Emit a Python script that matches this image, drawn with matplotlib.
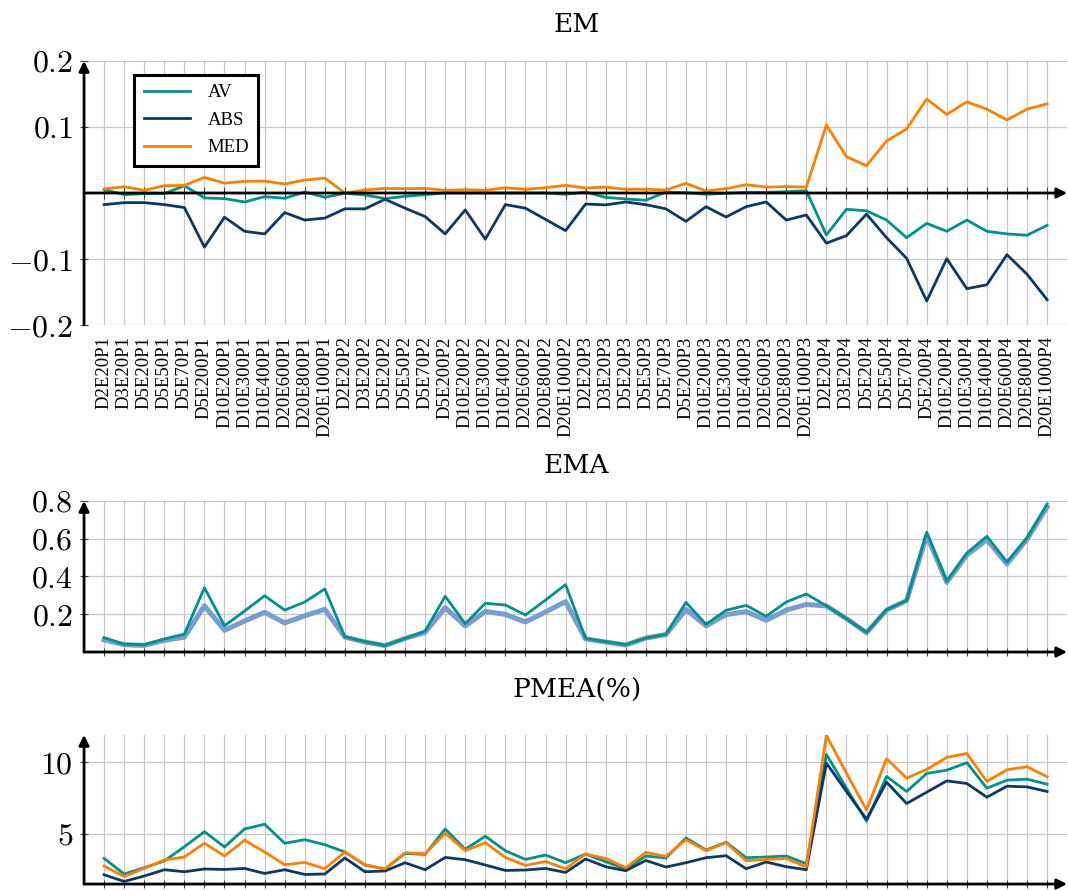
import numpy as np
import matplotlib
matplotlib.use("Agg")
import matplotlib.pyplot as plt
import matplotlib.patheffects as pe

plt.rcParams["mathtext.fontset"] = "cm"
plt.rcParams["font.family"] = ["Liberation Serif", "DejaVu Serif"]

# configurations, 12 per P group
base = ["D2E20", "D3E20", "D5E20", "D5E50", "D5E70", "D5E200",
        "D10E200", "D10E300", "D10E400", "D20E600", "D20E800", "D20E1000"]
labels = [b + p for p in ["P1", "P2", "P3", "P4"] for b in base]

# EM
em_av = [0.005, -0.0025, -0.001, -0.001, 0.011, -0.0075, -0.0085, -0.0136, -0.0055, -0.008, 0.0015, -0.0065,
         -0.0005, -0.003, -0.0085, -0.005, -0.0025, 0.0, 0.0, 0.0, 0.0, 0.0, 0.0, -0.002,
         0.0015, -0.0066, -0.009, -0.011, 0.0015, 0.0005, -0.002, -0.0005, 0.001, 0.001, 0.002, 0.0035,
         -0.0636, -0.0247, -0.027, -0.041, -0.0677, -0.046, -0.058, -0.041, -0.058, -0.062, -0.064, -0.049]
em_abs = [-0.0176, -0.0146, -0.0146, -0.0176, -0.022, -0.082, -0.0367, -0.058, -0.062, -0.0296, -0.041, -0.038,
          -0.024, -0.024, -0.0095, -0.023, -0.0357, -0.062, -0.0256, -0.070, -0.0176, -0.023, -0.040, -0.057,
          -0.0167, -0.018, -0.0136, -0.0177, -0.024, -0.043, -0.0207, -0.0364, -0.0207, -0.0136, -0.041, -0.0333,
          -0.076, -0.0646, -0.032, -0.0677, -0.099, -0.1636, -0.0995, -0.145, -0.139, -0.0934, -0.123, -0.1616]
em_med = [0.006, 0.0095, 0.004, 0.011, 0.0115, 0.0236, 0.015, 0.0176, 0.018, 0.0136, 0.0196, 0.0226,
          0.0, 0.0045, 0.007, 0.0065, 0.007, 0.004, 0.005, 0.004, 0.008, 0.0055, 0.008, 0.0116,
          0.0076, 0.009, 0.0056, 0.0056, 0.0045, 0.0146, 0.003, 0.0066, 0.0126, 0.009, 0.0096, 0.009,
          0.103, 0.055, 0.0414, 0.0788, 0.097, 0.1424, 0.119, 0.138, 0.127, 0.1106, 0.127, 0.135]

# EMA
ema_av = [0.076, 0.041, 0.039, 0.069, 0.095, 0.341, 0.139, 0.217, 0.298, 0.222, 0.265, 0.334,
          0.081, 0.055, 0.034, 0.072, 0.111, 0.295, 0.150, 0.258, 0.249, 0.196, 0.275, 0.357,
          0.072, 0.055, 0.039, 0.074, 0.094, 0.263, 0.147, 0.221, 0.247, 0.189, 0.265, 0.307,
          0.245, 0.177, 0.104, 0.224, 0.274, 0.635, 0.376, 0.524, 0.613, 0.477, 0.605, 0.784]
ema_abs = [0.064, 0.039, 0.035, 0.062, 0.079, 0.245, 0.115, 0.164, 0.210, 0.154, 0.192, 0.226,
           0.079, 0.053, 0.034, 0.072, 0.104, 0.235, 0.138, 0.215, 0.199, 0.159, 0.212, 0.267,
           0.069, 0.053, 0.037, 0.074, 0.092, 0.226, 0.139, 0.198, 0.214, 0.168, 0.222, 0.252,
           0.244, 0.177, 0.102, 0.222, 0.272, 0.618, 0.369, 0.514, 0.595, 0.466, 0.598, 0.768]

# PMEA(%)
pmea_av = [3.29, 2.20, 2.64, 3.11, 4.11, 5.16, 4.09, 5.35, 5.68, 4.35, 4.60, 4.25,
           3.74, 2.83, 2.55, 3.64, 3.57, 5.35, 3.93, 4.84, 3.83, 3.22, 3.53, 2.99,
           3.60, 3.06, 2.55, 3.46, 3.32, 4.72, 3.88, 4.42, 3.34, 3.39, 3.46, 2.92,
           10.56, 8.20, 5.89, 9.02, 7.97, 9.23, 9.46, 9.98, 8.20, 8.76, 8.83, 8.48]
pmea_abs = [2.15, 1.68, 2.06, 2.50, 2.36, 2.55, 2.52, 2.59, 2.24, 2.50, 2.17, 2.20,
            3.32, 2.36, 2.41, 2.99, 2.50, 3.36, 3.20, 2.83, 2.45, 2.48, 2.59, 2.31,
            3.25, 2.71, 2.43, 3.15, 2.69, 2.99, 3.34, 3.48, 2.57, 3.04, 2.71, 2.50,
            9.95, 7.97, 6.03, 8.62, 7.13, 7.92, 8.71, 8.53, 7.57, 8.34, 8.29, 7.97]
pmea_med = [2.76, 2.03, 2.59, 3.18, 3.39, 4.35, 3.46, 4.56, 3.74, 2.85, 3.01, 2.57,
            3.74, 2.85, 2.57, 3.69, 3.62, 5.05, 3.83, 4.39, 3.36, 2.80, 3.08, 2.57,
            3.60, 3.29, 2.64, 3.71, 3.43, 4.60, 3.83, 4.39, 3.13, 3.22, 3.29, 2.69,
            11.89, 9.25, 6.68, 10.26, 8.90, 9.51, 10.35, 10.63, 8.67, 9.49, 9.70, 9.00]

c_av = "#00918a"
c_abs = "#0b3866"
c_med = "#ff8000"
c_ema = "#72a0da"
grid_c = "#c8c8c8"
lw = 2.0

x = np.arange(len(labels))

fig = plt.figure(figsize=(10.68, 8.9), dpi=100)
ax1 = fig.add_axes([0.0787, 0.6348, 0.9205, 0.2967])
ax2 = fig.add_axes([0.0787, 0.2674, 0.9205, 0.1697])
ax3 = fig.add_axes([0.0787, 0.0067, 0.9205, 0.1675])


def num_fmt(v, _):
    return f"${v:g}$"


def axis_arrow(ax, xy, xytext, coords="axes fraction"):
    ax.annotate("", xy=xy, xytext=xytext, xycoords=coords,
                arrowprops=dict(arrowstyle="-|>", lw=2.0, color="black",
                                mutation_scale=15, shrinkA=0, shrinkB=0))


def style(ax, yticks, ylim, title, title_y):
    ax.set_xlim(-1, 48)
    ax.set_ylim(*ylim)
    for s in ax.spines.values():
        s.set_visible(False)
    ax.set_xticks(x)
    ax.set_yticks(yticks)
    ax.yaxis.set_major_formatter(plt.FuncFormatter(num_fmt))
    ax.tick_params(axis="y", direction="inout", length=6, width=0.8, color="#444444",
                   labelsize=23, pad=5)
    ax.grid(True, color=grid_c, lw=0.9)
    ax.set_axisbelow(True)
    axis_arrow(ax, (0, 1.0), (0, 0))
    fig.text(0.54, title_y, title, ha="center", va="center", fontsize=19,
             family=["DejaVu Serif"])


# EM panel
style(ax1, [-0.2, -0.1, 0.1, 0.2], (-0.2, 0.2), "EM", 1 - 25 / 890)
ax1.set_xticklabels(labels, rotation=90, fontsize=13.5)
ax1.tick_params(axis="x", length=0, pad=8)
axis_arrow(ax1, (48, 0), (-1, 0), coords="data")
ax1.plot(x, np.zeros(len(x)), ls="none", marker="|", ms=8, mew=0.8, color="#444444")
ax1.plot(x, em_av, color=c_av, lw=lw, label="AV")
ax1.plot(x, em_abs, color=c_abs, lw=lw, label="ABS")
ax1.plot(x, em_med, color=c_med, lw=lw, label="MED")
leg = ax1.legend(loc="upper left", bbox_to_anchor=(0.051, 0.947), borderaxespad=0,
                 fancybox=False, framealpha=1, edgecolor="black", fontsize=13.5,
                 handlelength=2.5, handletextpad=0.9, labelspacing=0.55,
                 borderpad=0.5)
leg.get_frame().set_linewidth(2.2)

# EMA panel
style(ax2, [0.2, 0.4, 0.6, 0.8], (0, 0.8), "EMA", 1 - 465 / 890)
ax2.tick_params(axis="x", direction="inout", length=6, width=0.8, color="#444444",
                labelbottom=False)
axis_arrow(ax2, (1.0, 0), (0, 0))
ax2.plot(x, ema_abs, color=c_ema, lw=2.2,
         path_effects=[pe.Stroke(linewidth=3.6, foreground="#8299bb"), pe.Normal()])
ax2.plot(x, ema_av, color=c_av, lw=lw)

# PMEA panel
style(ax3, [5, 10], (1.5, 11.92), "PMEA(%)", 1 - 690 / 890)
ax3.tick_params(axis="x", direction="inout", length=6, width=0.8, color="#444444",
                labelbottom=False)
axis_arrow(ax3, (1.0, 0), (0, 0))
ax3.plot(x, pmea_av, color=c_av, lw=lw)
ax3.plot(x, pmea_abs, color=c_abs, lw=lw)
ax3.plot(x, pmea_med, color=c_med, lw=lw)

fig.savefig("out.png", dpi=100)
